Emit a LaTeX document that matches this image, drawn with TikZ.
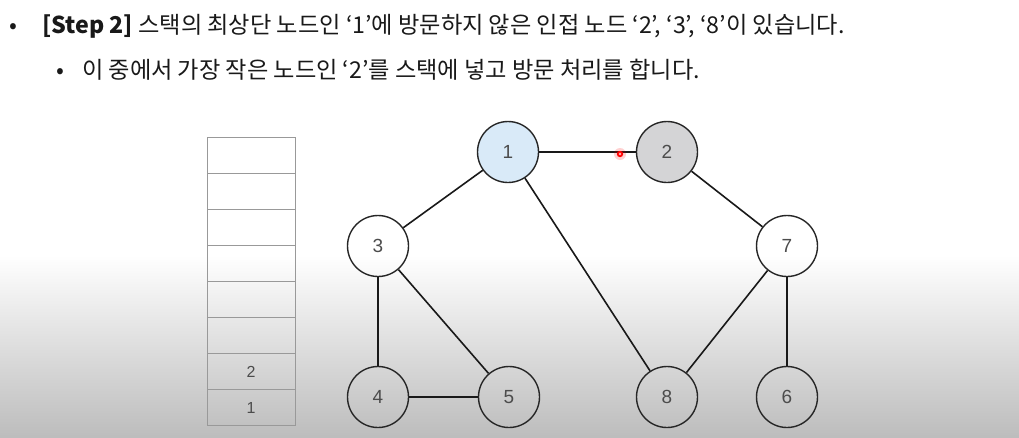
\documentclass[tikz,border=0pt]{standalone}
\usepackage{fontspec}
\setmainfont{Noto Sans CJK KR}
\newfontfamily\numfont{Liberation Sans}
\usetikzlibrary{calc}
\definecolor{visitblue}{RGB}{217,234,248}
\definecolor{visitgray}{RGB}{212,212,214}
\begin{document}
\begin{tikzpicture}[x=1pt,y=-1pt,
  vtx/.style={circle, draw=black!85, line width=1.4pt, minimum size=61pt, inner sep=0pt,
              font=\numfont\fontsize{19}{19}\selectfont, text=black!70},
  edge/.style={draw=black!90, line width=1.6pt},
  cell/.style={draw=black!40, line width=1pt, minimum width=88pt, minimum height=36.1pt, inner sep=0pt,
               font=\numfont\fontsize{16}{16}\selectfont, text=black!70},
  line1/.style={anchor=base west, inner sep=0pt, font=\fontsize{23.2}{24}\selectfont, text=black!90}]
\useasboundingbox (0,0) rectangle (1019,437);
\fill[white] (0,0) rectangle (1019,437);
\shade[top color=white, bottom color=black!26] (0,255) rectangle (1019,437);
% text
\node[line1] (b1) at (9,33) {•};
\node[line1] (t1) at (42,33) {\textbf{[Step 2]} 스택의 최상단 노드인 ‘1’에 방문하지 않은 인접 노드 ‘2’, ‘3’, ‘8’이 있습니다.};
\node[line1] (b2) at (56,78) {•};
\node[line1] (t2) at (82,78) {이 중에서 가장 작은 노드인 ‘2’를 스택에 넣고 방문 처리를 합니다.};
% stack
\foreach \i/\lab in {1/,2/,3/,4/,5/,6/,7/2,8/1}{
  \node[cell] (s\i) at (251,{137+(\i-0.5)*36.1}) {\lab};
}
% graph
\node[vtx, fill=visitblue] (n1) at (508,152) {1};
\node[vtx, fill=visitgray] (n2) at (667,152) {2};
\node[vtx] (n3) at (378,246) {3};
\node[vtx] (n7) at (787,246) {7};
\node[vtx] (n4) at (378,397) {4};
\node[vtx] (n5) at (509,397) {5};
\node[vtx] (n8) at (667,397) {8};
\node[vtx] (n6) at (787,397) {6};
\path[edge] (n1) -- (n2);
\path[edge] (n1) -- (n3);
\path[edge] (n1) -- (n8);
\path[edge] (n2) -- (n7);
\path[edge] (n3) -- (n4);
\path[edge] (n3) -- (n5);
\path[edge] (n4) -- (n5);
\path[edge] (n7) -- (n8);
\path[edge] (n7) -- (n6);
% laser pointer
\coordinate (lp) at (620,154);
\fill[red, opacity=0.18] (lp) circle (6);
\fill[red] (lp) circle (3.2);
\fill[white!70!red] (lp) circle (1.3);
\end{tikzpicture}
\end{document}
